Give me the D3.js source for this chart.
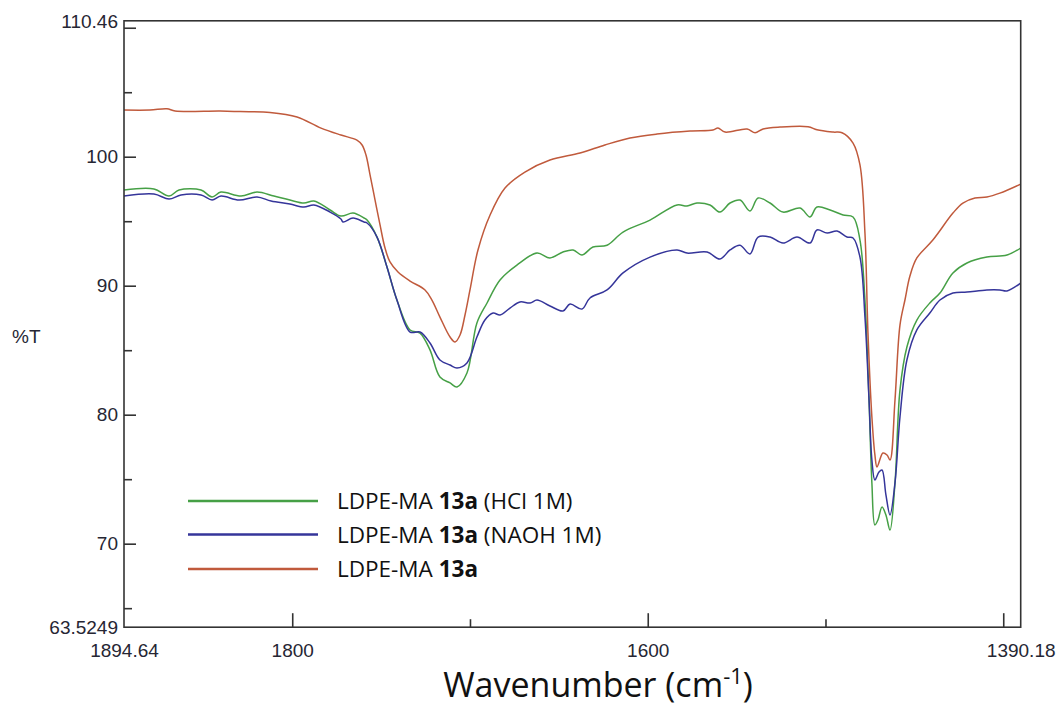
<!DOCTYPE html>
<html>
<head>
<meta charset="utf-8">
<script src="https://cdn.jsdelivr.net/npm/d3@7"></script>
<style>
  html, body { margin: 0; padding: 0; background: #ffffff; }
  svg { display: block; }
</style>
</head>
<body>
<svg id="chart" width="1059" height="708"></svg>
<script>
// Axis ranges (cm-1 and %T)
const wavenumberRange = [1894.64, 1390.18];
const transmittanceRange = [63.5249, 110.46];

// Tick values
const xMajorTicks = [1800, 1600, 1400];
const xMinorTicks = [1700, 1500];
const xLabelledTicks = [1800, 1600];
const yMajorTicks = [70, 80, 90, 100, 110];
const yMinorTicks = [65, 75, 85, 95, 105];
const yLabelledTicks = [70, 80, 90, 100];

// Spectra: [wavenumber, %T]
const hclSpectrum = [
  [1894.64, 97.42], [1877.8, 97.50], [1869.3, 96.95], [1863.7, 97.42], [1851.3, 97.42],
  [1845.1, 96.88], [1840.1, 97.26], [1828.8, 96.95], [1819.8, 97.26], [1810.3, 96.95],
  [1801.3, 96.64], [1793.4, 96.41], [1787.8, 96.57], [1778.7, 95.87], [1772.6, 95.40],
  [1765.8, 95.63], [1759.6, 95.25], [1757.9, 95.09], [1752.3, 93.77], [1746.7, 91.45],
  [1741.1, 88.89], [1733.7, 86.57], [1728.1, 86.33], [1722.5, 85.02], [1716.9, 82.92],
  [1711.2, 82.46], [1707.3, 82.15], [1701.7, 83.23], [1696.1, 87.11], [1690.4, 88.66],
  [1683.1, 90.44], [1673.6, 91.60], [1662.3, 92.53], [1655.0, 92.15], [1647.7, 92.61],
  [1642.0, 92.77], [1637.0, 92.38], [1630.8, 93.00], [1622.9, 93.14], [1613.9, 94.16],
  [1598.7, 95.09], [1583.5, 96.26], [1577.9, 96.18], [1572.3, 96.41], [1565.0, 96.26],
  [1559.4, 95.71], [1553.7, 96.41], [1548.1, 96.64], [1542.5, 95.79], [1537.9, 96.80],
  [1531.2, 96.41], [1523.9, 95.71], [1514.3, 96.02], [1508.7, 95.33], [1504.8, 96.10],
  [1497.4, 95.87], [1490.1, 95.48], [1484.5, 95.33], [1480.6, 93.54], [1477.8, 88.89],
  [1475.5, 81.14], [1473.9, 74.71], [1472.2, 71.45], [1470.5, 71.84], [1468.2, 72.85],
  [1466.0, 72.23], [1463.7, 71.06], [1460.9, 74.71], [1458.1, 81.91], [1454.2, 85.25],
  [1448.6, 87.34], [1441.3, 88.66], [1435.6, 89.43], [1428.3, 90.99], [1420.4, 91.76],
  [1409.2, 92.22], [1397.9, 92.38], [1390.18, 92.92]
];

const naohSpectrum = [
  [1894.64, 96.95], [1877.8, 97.11], [1869.3, 96.72], [1862.6, 97.03], [1851.3, 97.03],
  [1845.1, 96.64], [1840.1, 96.95], [1829.9, 96.64], [1819.8, 96.88], [1811.9, 96.57],
  [1801.3, 96.33], [1793.4, 96.10], [1787.8, 96.26], [1778.7, 95.71], [1772.6, 95.17],
  [1771.4, 94.94], [1765.8, 95.25], [1759.6, 94.94], [1757.9, 94.86], [1752.3, 93.77],
  [1746.7, 91.45], [1741.1, 88.89], [1733.7, 86.41], [1728.1, 86.41], [1722.5, 85.56],
  [1716.9, 84.24], [1711.2, 83.85], [1707.3, 83.62], [1701.7, 84.01], [1696.1, 86.02],
  [1691.6, 87.34], [1687.0, 87.88], [1683.1, 87.73], [1677.5, 88.27], [1671.9, 88.74],
  [1666.2, 88.66], [1662.3, 88.89], [1655.0, 88.43], [1647.7, 88.04], [1643.7, 88.58],
  [1637.0, 88.19], [1632.5, 89.05], [1622.9, 89.67], [1613.9, 90.99], [1598.7, 92.22],
  [1583.5, 92.77], [1577.9, 92.53], [1566.6, 92.61], [1559.4, 92.07], [1553.7, 92.77],
  [1548.1, 93.14], [1542.5, 92.46], [1537.9, 93.77], [1531.2, 93.77], [1523.9, 93.31],
  [1516.0, 93.77], [1508.7, 93.31], [1504.8, 94.32], [1499.1, 94.08], [1493.5, 94.24],
  [1487.9, 93.77], [1484.5, 93.70], [1480.6, 92.22], [1477.8, 87.57], [1475.5, 81.14],
  [1473.9, 76.49], [1472.2, 74.94], [1469.9, 75.56], [1468.2, 75.71], [1466.0, 73.78],
  [1463.7, 72.23], [1460.9, 74.71], [1458.1, 79.82], [1454.2, 84.24], [1448.6, 86.57],
  [1441.3, 87.88], [1435.6, 88.89], [1428.3, 89.43], [1420.4, 89.51], [1409.2, 89.67],
  [1401.9, 89.67], [1397.9, 89.59], [1390.18, 90.21]
];

const untreatedSpectrum = [
  [1894.64, 103.62], [1880.0, 103.62], [1870.5, 103.72], [1865.9, 103.54], [1840.6, 103.54],
  [1829.4, 103.50], [1812.5, 103.43], [1797.3, 103.08], [1783.8, 102.22], [1772.6, 101.68],
  [1763.6, 101.29], [1760.7, 100.91], [1758.5, 100.13], [1756.2, 98.58], [1753.4, 96.64],
  [1750.6, 94.71], [1747.8, 92.92], [1745.0, 91.84], [1740.5, 91.06], [1733.7, 90.36],
  [1725.3, 89.67], [1721.4, 88.89], [1716.9, 87.57], [1711.2, 86.02], [1708.4, 85.64],
  [1705.6, 86.18], [1702.8, 87.73], [1700.0, 89.67], [1695.5, 92.77], [1688.7, 95.48],
  [1680.3, 97.57], [1669.1, 98.81], [1655.0, 99.74], [1638.1, 100.29], [1624.1, 100.91],
  [1610.0, 101.45], [1594.8, 101.76], [1576.2, 101.99], [1563.3, 102.07], [1560.5, 102.22],
  [1556.5, 101.91], [1544.1, 102.15], [1539.6, 101.86], [1535.1, 102.15], [1525.6, 102.30],
  [1509.8, 102.33], [1504.8, 102.09], [1495.7, 101.91], [1490.7, 101.86], [1484.5, 101.06],
  [1480.6, 99.36], [1477.8, 94.08], [1476.1, 86.33], [1473.9, 79.82], [1472.2, 76.88],
  [1471.0, 75.95], [1467.7, 77.03], [1465.4, 76.88], [1463.7, 76.49], [1460.9, 81.14],
  [1458.1, 86.95], [1455.3, 88.89], [1452.5, 90.75], [1448.6, 92.15], [1439.6, 93.54],
  [1428.3, 95.63], [1422.7, 96.41], [1415.9, 96.80], [1409.2, 96.88], [1401.9, 97.18],
  [1390.18, 97.88]
];

const seriesNames = ["LDPE-MA |13a| (HCl 1M)", "LDPE-MA |13a| (NAOH 1M)", "LDPE-MA |13a|"];
const seriesColors = ["#46a046", "#35359a", "#c05a3c"];
const seriesData = [hclSpectrum, naohSpectrum, untreatedSpectrum];

const svg = d3.select("#chart");
const plotLeft = 124, plotRight = 1020.7, plotTop = 21.8, plotBottom = 627.2;

const x = d3.scaleLinear().domain(wavenumberRange).range([plotLeft, plotRight]);
const y = d3.scaleLinear().domain(transmittanceRange).range([plotBottom, plotTop]);

const axisColor = "#333";
const labelColor = "#262633";
const tickFont = "'Liberation Sans', Arial, sans-serif";

function styleAxis(g) {
  g.select(".domain").remove();
  g.selectAll(".tick line").attr("stroke", axisColor).attr("stroke-width", 1.6);
  g.selectAll(".tick text")
    .attr("fill", labelColor)
    .style("font-family", tickFont)
    .style("font-size", "19px");
}

// Spectra
const line = d3.line()
  .x(d => x(d[0]))
  .y(d => y(d[1]))
  .curve(d3.curveCatmullRom.alpha(0.5));

svg.append("clipPath").attr("id", "plot-clip")
  .append("rect").attr("x", plotLeft).attr("y", plotTop - 2)
  .attr("width", plotRight - plotLeft).attr("height", plotBottom - plotTop + 2);

const curves = svg.append("g").attr("clip-path", "url(#plot-clip)");
seriesData.forEach((data, i) => {
  curves.append("path")
    .datum(data)
    .attr("fill", "none")
    .attr("stroke", seriesColors[i])
    .attr("stroke-width", 1.5)
    .attr("stroke-linejoin", "round")
    .attr("d", line);
});

// Bottom axis: major, minor and end labels
svg.append("g")
  .attr("transform", `translate(0,${plotBottom})`)
  .call(d3.axisBottom(x).tickValues(xMajorTicks).tickSizeInner(-14).tickSizeOuter(0).tickPadding(16.5)
    .tickFormat(d => xLabelledTicks.includes(d) ? d3.format("d")(d) : ""))
  .call(styleAxis);
svg.append("g")
  .attr("transform", `translate(0,${plotBottom})`)
  .call(d3.axisBottom(x).tickValues(xMinorTicks).tickSizeInner(-8).tickSizeOuter(0).tickFormat(""))
  .call(styleAxis);
svg.append("g")
  .attr("transform", `translate(0,${plotBottom})`)
  .call(d3.axisBottom(x).tickValues(wavenumberRange).tickSize(0).tickPadding(16.5).tickFormat(d => String(d)))
  .call(styleAxis);

// Left axis: major, minor and end labels
svg.append("g")
  .attr("transform", `translate(${plotLeft},0)`)
  .call(d3.axisLeft(y).tickValues(yMajorTicks).tickSizeInner(-12).tickSizeOuter(0).tickPadding(6)
    .tickFormat(d => yLabelledTicks.includes(d) ? d3.format("d")(d) : ""))
  .call(styleAxis);
svg.append("g")
  .attr("transform", `translate(${plotLeft},0)`)
  .call(d3.axisLeft(y).tickValues(yMinorTicks).tickSizeInner(-8).tickSizeOuter(0).tickFormat(""))
  .call(styleAxis);
svg.append("g")
  .attr("transform", `translate(${plotLeft},0)`)
  .call(d3.axisLeft(y).tickValues(transmittanceRange).tickSize(0).tickPadding(6).tickFormat(d => String(d)))
  .call(styleAxis);

// Plot frame
svg.append("rect")
  .attr("x", plotLeft).attr("y", plotTop - 1)
  .attr("width", plotRight - plotLeft).attr("height", plotBottom - plotTop + 1)
  .attr("fill", "none").attr("stroke", axisColor).attr("stroke-width", 1.6);

// Y axis title
svg.append("text")
  .attr("x", 12).attr("y", 343)
  .attr("fill", labelColor)
  .style("font-family", tickFont)
  .style("font-size", "19px")
  .text("%T");

// X axis title with superscript
const xTitle = svg.append("text")
  .attr("x", 598).attr("y", 697)
  .attr("text-anchor", "middle")
  .attr("fill", "#111")
  .style("font-family", "'Open Sans', sans-serif")
  .style("font-size", "34px");
xTitle.append("tspan").text("Wavenumber (cm");
xTitle.append("tspan").attr("dy", -13).style("font-size", "22px").text("-1");
xTitle.append("tspan").attr("dy", 13).text(")");

// Legend
const legend = svg.append("g");
seriesNames.forEach((name, i) => {
  const ly = [501, 534.5, 569][i];
  legend.append("line")
    .attr("x1", 188).attr("x2", 318)
    .attr("y1", ly).attr("y2", ly)
    .attr("stroke", seriesColors[i]).attr("stroke-width", 2.5);
  const t = legend.append("text")
    .attr("x", 337).attr("y", ly + 8)
    .attr("fill", "#111")
    .style("font-family", "'Open Sans', sans-serif")
    .style("font-size", "22.5px");
  name.split("|").forEach((part, k) => {
    if (part.length === 0) return;
    t.append("tspan").attr("font-weight", k === 1 ? "bold" : "normal").text(part);
  });
});
</script>
</body>
</html>
